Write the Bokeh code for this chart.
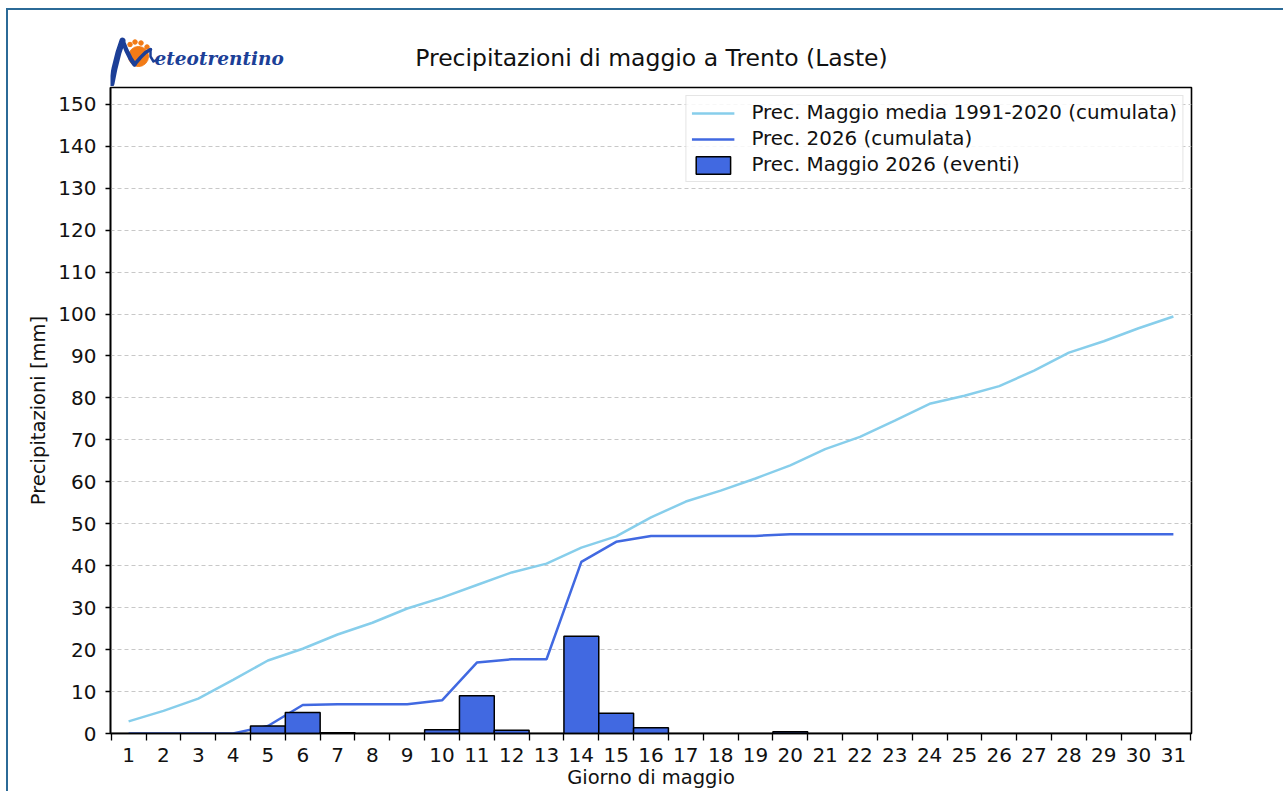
from bokeh.plotting import figure
from bokeh.layouts import column
from bokeh.models import FixedTicker, Range1d, Legend, LegendItem, ColumnDataSource
from bokeh.core.properties import value
from bokeh.embed import file_html
from bokeh.resources import INLINE

days = list(range(1, 32))
day_labels = [str(d) for d in days]

mean_cum_1991_2020 = [2.9, 5.4, 8.3, 12.8, 17.4, 20.2, 23.6, 26.4, 29.8, 32.4,
                      35.4, 38.4, 40.5, 44.3, 47.0, 51.5, 55.3, 57.9, 60.8, 63.9,
                      67.8, 70.7, 74.6, 78.6, 80.5, 82.8, 86.5, 90.8, 93.5, 96.6, 99.4]

cum_2026 = [0.0, 0.0, 0.0, 0.0, 1.8, 6.8, 7.0, 7.0, 7.0, 7.9,
            16.9, 17.7, 17.7, 40.9, 45.7, 47.1, 47.1, 47.1, 47.1, 47.5,
            47.5, 47.5, 47.5, 47.5, 47.5, 47.5, 47.5, 47.5, 47.5, 47.5, 47.5]

events_2026 = [0.0, 0.0, 0.0, 0.0, 1.8, 5.0, 0.2, 0.0, 0.0, 0.9,
               9.0, 0.8, 0.0, 23.2, 4.8, 1.4, 0.0, 0.0, 0.0, 0.4,
               0.0, 0.0, 0.0, 0.0, 0.0, 0.0, 0.0, 0.0, 0.0, 0.0, 0.0]

y_ticks = list(range(0, 151, 10))

title_text = "Precipitazioni di maggio a Trento (Laste)"
legend_labels = ["Prec. Maggio media 1991-2020 (cumulata)",
                 "Prec. 2026 (cumulata)",
                 "Prec. Maggio 2026 (eventi)"]

FONT = "DejaVu Sans"
W = 1275

# ---------------- header (logo + title), page-pixel coordinates ----------------
# (frame of the header is aligned with the chart frame: page x 110..1191, y 10..86)
hdr = figure(width=W, height=76, x_range=Range1d(110, 1191), y_range=Range1d(86, 10),
             output_backend="svg", toolbar_location=None,
             min_border=0, outline_line_color=None)
hdr.axis.visible = False
hdr.grid.visible = False

LOGO_BLUE = "#1c3f97"
LOGO_ORANGE = "#f27b16"
hdr.scatter([138], [56], size=20, marker="circle", color=LOGO_ORANGE)
hdr.scatter([129.5, 134.5, 140.5, 146.5], [44, 41.5, 42.5, 46.5], size=4.5, marker="circle",
            color=LOGO_ORANGE)
hdr.multi_line(xs=[[111, 114, 118, 122], [122, 126, 130, 134], [134, 140, 145, 150],
                   [150, 150, 153, 157]],
               ys=[[83, 68, 52, 40], [40, 50, 58, 64], [64, 57, 52, 49],
                   [49, 56, 61, 59]],
               line_color=LOGO_BLUE, line_width=[6, 4.5, 3.5, 2.5],
               line_cap="round", line_join="round")
hdr.text(x=[154], y=[57.5], text=["eteotrentino"], text_font=value("DejaVu Serif"),
         text_font_style="bold italic", text_font_size="18.5px", text_color=LOGO_BLUE,
         text_baseline="middle", text_align="left")
hdr.text(x=[651], y=[57.5], text=[title_text], text_font=value(FONT),
         text_font_size="23.5px", text_color="#111111",
         text_baseline="middle", text_align="center")

# ---------------- main chart ----------------
p = figure(width=W, height=705,
           x_range=Range1d(0.48, 31.52), y_range=Range1d(0, 154),
           output_backend="svg", toolbar_location=None,
           min_border_left=102, min_border_right=92,
           min_border_top=1, min_border_bottom=57)

src = ColumnDataSource(dict(day=days, mean=mean_cum_1991_2020, cum=cum_2026, ev=events_2026))

r_mean = p.line("day", "mean", source=src, line_color="#87CEEB", line_width=2.5)
r_cum = p.line("day", "cum", source=src, line_color="#4169E1", line_width=2.5)
r_bar = p.vbar(x="day", top="ev", bottom=0, width=1.0, source=src,
               fill_color="#4169E1", line_color="black", line_width=1.5)

p.xaxis.ticker = FixedTicker(ticks=days, minor_ticks=[d + 0.5 for d in range(0, 32)])
p.xaxis.major_label_overrides = {d: lab for d, lab in zip(days, day_labels)}
p.xaxis.major_tick_out = 0
p.xaxis.major_tick_in = 0
p.xaxis.minor_tick_out = 7
p.xaxis.minor_tick_in = 0
p.xaxis.minor_tick_line_color = "black"
p.xaxis.minor_tick_line_width = 1.3
p.xaxis.major_label_standoff = 7
p.xaxis.axis_label = "Giorno di maggio"
p.xaxis.axis_label_standoff = 1

p.yaxis.ticker = FixedTicker(ticks=y_ticks)
p.yaxis.minor_tick_line_color = None
p.yaxis.major_tick_out = 5
p.yaxis.major_tick_in = 0
p.yaxis.major_tick_line_width = 1.3
p.yaxis.major_label_standoff = 9
p.yaxis.axis_label = "Precipitazioni [mm]"
p.yaxis.axis_label_standoff = 5

for ax in (p.xaxis[0], p.yaxis[0]):
    ax.axis_line_color = "black"
    ax.axis_line_width = 1.6
    ax.major_tick_line_color = "black"
    ax.major_label_text_font = FONT
    ax.major_label_text_font_size = "20px"
    ax.major_label_text_color = "#111111"
    ax.axis_label_text_font = FONT
    ax.axis_label_text_font_size = "19.5px"
    ax.axis_label_text_font_style = "normal"
    ax.axis_label_text_color = "#111111"

p.xgrid.grid_line_color = None
p.ygrid.grid_line_color = "#c8c8c8"
p.ygrid.grid_line_dash = "4 3"
p.ygrid.grid_line_width = 1

p.outline_line_color = "black"
p.outline_line_width = 1.6
p.outline_line_alpha = 1

legend = Legend(items=[
    LegendItem(label=legend_labels[0], renderers=[r_mean]),
    LegendItem(label=legend_labels[1], renderers=[r_cum]),
    LegendItem(label=legend_labels[2], renderers=[r_bar]),
], location="top_right")
legend.margin = 8
legend.padding = 5
legend.spacing = 3
legend.label_standoff = 17
legend.glyph_width = 43
legend.glyph_height = 22
legend.label_height = 22
legend.label_text_font = FONT
legend.label_text_font_size = "19.9px"
legend.label_text_color = "#111111"
legend.border_line_color = "#cccccc"
legend.border_line_width = 1
legend.background_fill_alpha = 0.85
p.add_layout(legend)

layout = column(hdr, p, spacing=0,
                styles={"margin-left": "6px", "margin-top": "8px",
                        "border-left": "2px solid #2b6a97",
                        "border-top": "2px solid #2b6a97"})

open("out.html", "w").write(file_html(layout, INLINE))
